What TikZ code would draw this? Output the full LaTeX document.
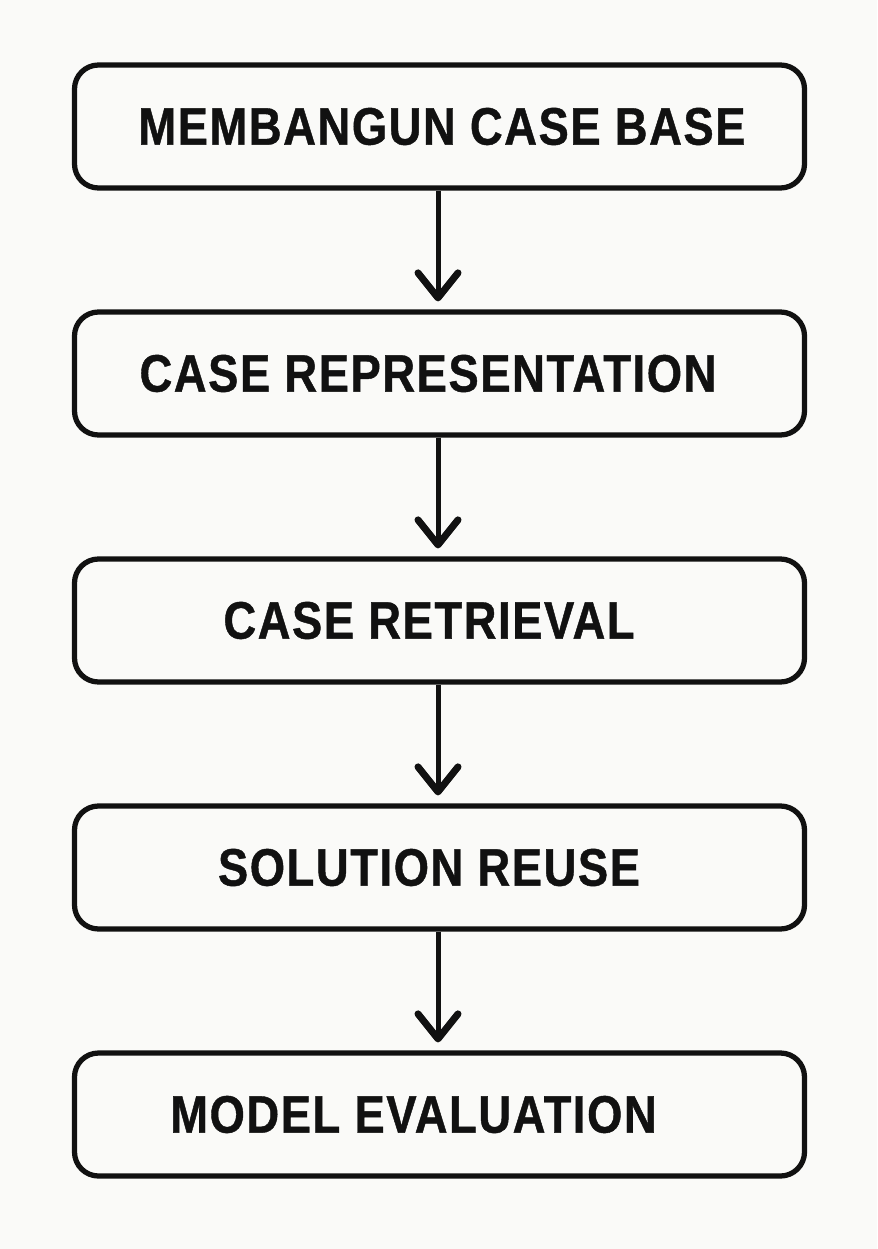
\documentclass[tikz,border=0pt]{standalone}
\usepackage{fontspec}
\newfontfamily\boxfont{Liberation Sans}[FakeStretch=0.86,LetterSpace=3,BoldFeatures={FakeBold=0.8}]
\usepackage{xcolor}
\usepackage{tikz}
\usetikzlibrary{arrows.meta}
\usetikzlibrary{positioning}

\definecolor{paper}{RGB}{250,250,248}
\definecolor{ink}{RGB}{17,17,17}

\begin{document}
\begin{tikzpicture}
    \tikzstyle{every node}=[font=\boxfont\bfseries\fontsize{30}{36}\selectfont,text=ink,node distance=2.375cm]
    \tikzstyle{stepbox}=[draw=ink,line width=0.105cm,fill=paper,rounded corners=0.48cm,
                         minimum width=14.6cm,minimum height=2.46cm,inner sep=0pt]
    \tikzstyle{flow}=[draw=ink,line width=0.1cm,shorten >=0.16cm,
                      -{Straight Barb[length=0.5cm,width=0.8cm,line width=0.14cm,round]}]

    % page
    \fill[paper] (0,0) rectangle (17.54,-24.98);

    \node[stepbox] (base) at (8.79,-2.53) {MEMBANGUN CASE BASE\hspace*{-0.1cm}};
    \node[stepbox,below=of base] (repr)  {CASE REPRESENTATION\hspace*{0.46cm}};
    \node[stepbox,below=of repr] (retr)  {CASE RETRIEVAL\hspace*{0.42cm}};
    \node[stepbox,below=of retr] (reuse) {SOLUTION REUSE\hspace*{0.42cm}};
    \node[stepbox,below=of reuse] (eval) {MODEL EVALUATION\hspace*{1.04cm}};

    \foreach \a/\b in {base/repr,repr/retr,retr/reuse,reuse/eval}{%
      \draw[flow] ([xshift=-0.03cm]\a.south) -- ([xshift=-0.03cm]\b.north) ;}

\end{tikzpicture}
\end{document}
